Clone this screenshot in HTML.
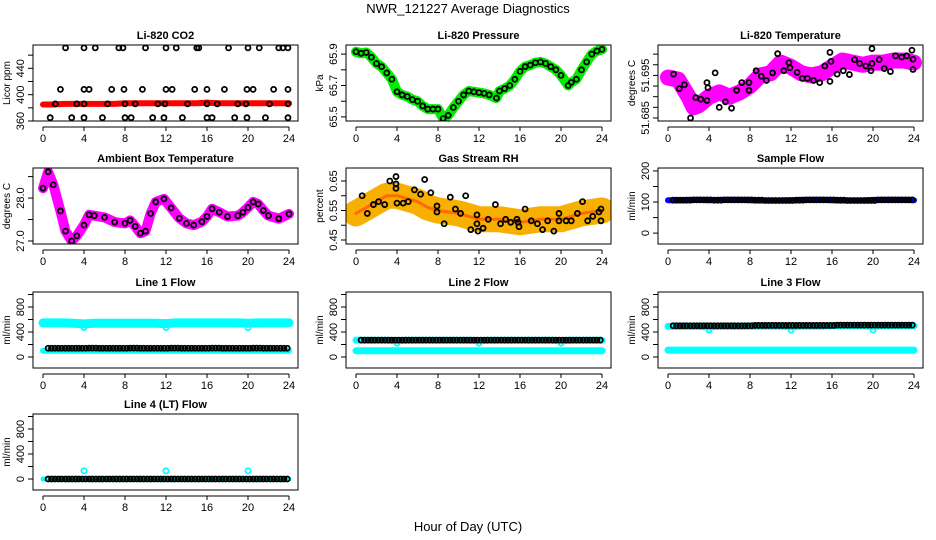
<!DOCTYPE html>
<html><head><meta charset="utf-8">
<style>
html,body{margin:0;padding:0;background:#fff;}
svg{display:block;font-family:"Liberation Sans",sans-serif;}
</style></head>
<body>
<svg id="c" width="936" height="540" viewBox="0 0 936 540">
<defs id="defs"></defs>
<text x="468" y="13" text-anchor="middle" font-size="13">NWR_121227  Average Diagnostics</text>
<text x="468" y="531" text-anchor="middle" font-size="13">Hour of Day (UTC)</text>
</svg>
<script>
const xTicks=[0,4,8,12,16,20,24];
// CO2
const co2BandH=[0,1,2,3,4,5,6,7,8,9,10,11,12,13,14,15,16,17,18,19,20,21,22,23,24];
const co2BandV=[385,385,386,386,386,386,386,386,387,387,387,387,387,387,387,387,388,387,387,387,387,387,387,387,387];
const co2HiH=[2.2,4,5.1,7.4,7.8,10,12,13,15,15.2,18.1,20,21.1,23,23.4,23.9];
const co2MidH=[1.7,4,4.5,6.7,7.9,9.7,12,12.6,14.8,16,17.7,19.9,20.5,22.5,23.9];
const co2LowH=[1.2,3.3,4,6.3,8,9,11.2,11.9,14.1,16,17,19,19.8,22.1,23.9];
const co2BotH=[0.7,2.8,4,5.8,8,8.6,10.7,11.8,13.6,16,16.5,18.7,19.9,21.7,23.9];
const co2Levels=[471,408,386,365];
// Pressure
const presH=[0,0.5,1,1.5,2,2.5,3,3.5,4,4.5,5,5.5,6,6.5,7,7.5,8,8.5,9,9.5,10,10.5,11,11.5,12,12.5,13,13.7,14,14.5,15,15.5,16,16.5,17,17.5,18,18.5,19,19.5,20,20.7,21,21.5,22,22.5,23,23.5,24];
const presV=[65.915,65.905,65.91,65.88,65.84,65.82,65.78,65.74,65.66,65.64,65.63,65.61,65.6,65.57,65.55,65.55,65.55,65.49,65.51,65.56,65.6,65.64,65.665,65.66,65.655,65.65,65.64,65.62,65.665,65.68,65.7,65.74,65.79,65.82,65.83,65.845,65.85,65.84,65.82,65.8,65.765,65.7,65.72,65.74,65.8,65.85,65.9,65.92,65.93];
// Li-820 temperature
const tMagH=[0,1,2,2.5,3,4,5,6,7,8,9,10,11,12,13,14,15,16,17,18,19,20,21,22,23,24];
const tMagV=[51.6945,51.694,51.690,51.6875,51.688,51.690,51.691,51.690,51.691,51.6925,51.695,51.6955,51.698,51.697,51.6955,51.695,51.6955,51.697,51.6985,51.698,51.6975,51.698,51.698,51.6985,51.6985,51.698];
const tBlkH=[0.55,1.1,1.6,2.2,2.7,3.2,3.8,3.8,3.9,4.6,5.0,5.6,6.2,6.7,7.2,7.9,7.9,8.6,9.1,9.6,10.2,10.7,11.3,11.8,11.9,12.6,13.1,13.6,14.2,14.8,15.3,15.8,15.9,15.8,16.5,17.1,17.7,18.2,18.7,19.3,19.8,19.9,19.9,20.6,21.1,21.7,22.2,22.8,23.3,23.8,23.9,23.9];
const tBlkV=[51.6953,51.6919,51.6928,51.685,51.6898,51.6894,51.6891,51.6933,51.6921,51.6956,51.6875,51.6888,51.6873,51.6915,51.6933,51.6933,51.6915,51.6961,51.6948,51.6938,51.6956,51.7001,51.6961,51.698,51.6968,51.6957,51.6943,51.6943,51.6938,51.6933,51.6972,51.7004,51.6983,51.6936,51.6953,51.6961,51.6952,51.6987,51.6978,51.6972,51.6961,51.7013,51.6978,51.6987,51.6966,51.6959,51.6996,51.6993,51.6996,51.7009,51.6988,51.6964];
// Ambient temperature
const ambH=[0,0.5,1,1.7,2.2,2.8,3.3,4,4.5,5,6,7,8,8.5,9,9.5,10,10.5,11,11.8,12.5,13.3,14,14.7,15.5,16,16.5,17.2,18,19,19.5,20,20.5,21,21.5,22,23,24];
const ambV=[28.23,28.61,28.31,27.70,27.23,27.0,27.12,27.37,27.61,27.59,27.55,27.44,27.41,27.48,27.34,27.18,27.23,27.64,27.91,27.98,27.77,27.53,27.41,27.37,27.45,27.57,27.75,27.67,27.57,27.59,27.67,27.78,27.91,27.86,27.71,27.59,27.52,27.63];
// Gas stream RH
const rhBandH=[0,1,2,3,4,5,6,7,8,10,12,14,16,18,20,22,24];
const rhBandV=[0.54,0.56,0.58,0.60,0.60,0.59,0.58,0.56,0.55,0.54,0.52,0.52,0.51,0.52,0.52,0.54,0.55];
const rhBlkH=[0.6,1.1,1.7,2.2,2.8,3.3,3.9,3.9,3.9,4,4.6,5.1,5.7,6.3,6.7,7.3,7.9,7.9,8.6,9.2,9.7,10.2,10.7,11.2,11.8,11.8,11.9,12.4,12.9,13.6,14.1,14.6,15.1,15.7,15.8,15.9,16.5,17.1,17.7,18.2,18.7,19.3,19.8,19.8,20.5,21,21.6,22.1,22.6,23.1,23.7,23.9,23.9];
const rhBlkV=[0.60,0.54,0.57,0.58,0.57,0.65,0.665,0.64,0.625,0.575,0.575,0.58,0.62,0.605,0.655,0.61,0.565,0.545,0.505,0.595,0.555,0.54,0.60,0.485,0.505,0.535,0.48,0.49,0.52,0.57,0.505,0.52,0.51,0.52,0.51,0.495,0.555,0.515,0.505,0.485,0.515,0.48,0.54,0.515,0.515,0.515,0.54,0.58,0.515,0.53,0.545,0.555,0.515];
// Flows (hourly)
const hours=[0,1,2,3,4,5,6,7,8,9,10,11,12,13,14,15,16,17,18,19,20,21,22,23,24];
const sampleV=[106,106,107,107,106,107,107,107,106,105,105,105,106,107,107,107,106,105,105,105,107,107,107,107,106];
const l1Hi=[545,545,545,540,530,540,540,540,540,540,540,540,535,545,545,545,545,545,545,545,540,545,545,545,545];
const l1Lo=[100,100,100,100,100,100,100,100,100,100,100,100,100,100,100,100,100,100,100,100,100,100,100,100,100];
const l1Blk=[140,140,140,140,142,140,140,140,142,140,140,140,142,140,140,140,142,140,140,140,142,140,140,140,142];
const l2Hi=[270,268,268,268,262,268,268,268,268,268,268,268,262,268,268,268,268,268,268,268,262,268,268,268,268];
const l2Lo=[100,100,100,100,100,100,100,100,100,100,100,100,100,100,100,100,100,100,100,100,100,100,100,100,100];
const l2Blk=[270,270,270,270,270,270,270,270,270,270,270,270,270,270,270,270,270,270,270,270,270,270,270,270,270];
const l3Hi=[490,490,490,490,480,490,490,490,495,495,495,495,485,495,495,495,500,500,500,500,490,500,500,500,500];
const l3Lo=[110,110,110,110,110,110,110,110,110,110,110,110,110,110,110,110,110,110,110,110,110,110,110,110,110];
const l3Blk=[500,500,500,500,500,500,500,500,505,505,505,505,505,505,505,505,510,510,510,510,510,510,510,510,515];
const l4V=[0,0,0,0,0,0,0,0,0,0,0,0,0,0,0,0,0,0,0,0,0,0,0,0,0];
const dipH=[4,12,20];
const dip1=[470,470,470], dip2=[220,220,220], dip3=[430,430,430], dip4=[130,130,130];

const NS="http://www.w3.org/2000/svg";
const svg=document.getElementById('c');
const defs=document.getElementById('defs');
function mk(tag,attrs,parent){const e=document.createElementNS(NS,tag);for(const k in attrs)e.setAttribute(k,attrs[k]);(parent||svg).appendChild(e);return e;}
const colL=[33,346,658], rowT=[45,168,292,414], W=265, H=76;
let clipN=0;
function panel(name,col,row,ymin,ymax,ticks,labels,title,ylab){
  const g=mk('g',{});
  
  
  const L=colL[col],T=rowT[row];
  const X=h=>L+10+h*246/24;
  const Y=v=>T+H-(v-ymin)/(ymax-ymin)*H;
  const cid='clip'+(clipN++);
  const cp=mk('clipPath',{id:cid},defs);
  mk('rect',{x:L,y:T,width:W,height:H},cp);
  const t=mk('text',{x:L+W/2,y:T-6,'text-anchor':'middle','font-size':11,'font-weight':'bold'},g);t.textContent=title;
  
  
  const plot=mk('g',{'clip-path':`url(#${cid})`},g);
  
  
  const box=mk('rect',{x:L,y:T,width:W,height:H,fill:'none',stroke:'#000','stroke-width':1},g);
  
  
  const xa=mk('g',{},g);
  
  
  const ay=T+H+6;
  mk('line',{x1:X(0),x2:X(24),y1:ay,y2:ay,stroke:'#000'},xa);
  xTicks.forEach(v=>{mk('line',{x1:X(v),x2:X(v),y1:ay,y2:ay+4,stroke:'#000'},xa);
    const tx=mk('text',{x:X(v),y:ay+15,'text-anchor':'middle','font-size':11},xa);tx.textContent=v;
    
    });
  const ya=mk('g',{},g);
  
  
  mk('line',{x1:L,x2:L,y1:Y(ticks[0]),y2:Y(ticks[ticks.length-1]),stroke:'#000'},ya);
  ticks.forEach(v=>mk('line',{x1:L-5,x2:L,y1:Y(v),y2:Y(v),stroke:'#000'},ya));
  labels.forEach(s=>{const v=parseFloat(s);const y=Y(v);
    const tx=mk('text',{x:L-9,y:y,'text-anchor':'middle','font-size':11,transform:`rotate(-90 ${L-9} ${y})`},ya);tx.textContent=s;
    
    });
  const yl=mk('text',{x:L-23,y:T+H/2,'text-anchor':'middle','font-size':10,transform:`rotate(-90 ${L-23} ${T+H/2})`},ya);yl.textContent=ylab;
  
  
  return {X,Y,plot};
}
function band(p,hs,vs,color,w,name){
  const pts=hs.map((h,i)=>p.X(h).toFixed(1)+','+p.Y(vs[i]).toFixed(1)).join(' ');
  const e=mk('polyline',{points:pts,fill:'none',stroke:color,'stroke-width':w,'stroke-linecap':'round','stroke-linejoin':'round'},p.plot);
  
  
}
function pts(p,hs,vs,color,name,r){
  hs.forEach((h,i)=>{const c=mk('circle',{cx:p.X(h),cy:p.Y(vs[i]),r:r||2.5,fill:'none',stroke:color,'stroke-width':1.8},p.plot);
    
    });
}
function tri(p,vals,color,name){
  hours.forEach((h,i)=>{if(h>=24)return;[0.5,0.83,1.17].forEach(o=>{const hh=h+o;if(hh>24)return;
    const c=mk('circle',{cx:p.X(hh),cy:p.Y(vals[i]),r:2.5,fill:'none',stroke:color,'stroke-width':1.8},p.plot);
    
    });});
}
let p=panel('co2',0,0,360,475.4,[360,380,400,420,440,460],['360','400','440'],'Li-820 CO2','Licor ppm');
band(p,co2BandH,co2BandV,'#ff0000',6,'co2-band');
[co2HiH,co2MidH,co2LowH,co2BotH].forEach((a,k)=>pts(p,a,a.map(()=>co2Levels[k]),'#000','co2-point'));
p=panel('pressure',1,0,65.474,65.958,[65.5,65.6,65.7,65.8,65.9],['65.5','65.7','65.9'],'Li-820 Pressure','kPa');
band(p,presH,presV,'#00ee00',10,'pressure-band');
pts(p,presH,presV,'#000','pressure-point');
p=panel('li-temp',2,0,51.68429,51.70214,[51.685,51.6875,51.69,51.6925,51.695,51.6975,51.7],['51.685','51.695'],'Li-820 Temperature','degrees C');
band(p,tMagH,tMagV,'#ff00ff',16,'li-temp-band');
pts(p,tBlkH,tBlkV,'#000','li-temp-point');
p=panel('ambient',0,1,26.93,28.70,[27,27.5,28,28.5],['27.0','28.0'],'Ambient Box Temperature','degrees C');
band(p,ambH,ambV,'#ff00ff',10,'ambient-band');
pts(p,ambH,ambV,'#000','ambient-point');
p=panel('rh',1,1,0.4364,0.694,[0.45,0.5,0.55,0.6,0.65],['0.45','0.55','0.65'],'Gas Stream RH','percent');
band(p,rhBandH,rhBandV,'#f7b000',26,'rh-band');
band(p,rhBandH,rhBandV,'#ff6a00',3,'rh-band-core');
pts(p,rhBlkH,rhBlkV,'#000','rh-point');
p=panel('sample-flow',2,1,-35,209.5,[0,50,100,150,200],['0','100','200'],'Sample Flow','ml/min');
band(p,hours,sampleV,'#0000ff',6,'sample-flow-band');
tri(p,sampleV,'#000','sample-flow-point');
const fT=[0,200,400,600,800,1000], fL=['0','400','800'];
p=panel('line1-flow',0,2,-176,1040,fT,fL,'Line 1 Flow','ml/min');
band(p,hours,l1Hi,'#00ffff',9,'line1-high-band');
band(p,hours,l1Lo,'#00ffff',6,'line1-low-band');
pts(p,dipH,dip1,'#00ffff','line1-dip');
tri(p,l1Blk,'#000','line1-point');
p=panel('line2-flow',1,2,-176,1040,fT,fL,'Line 2 Flow','ml/min');
band(p,hours,l2Hi,'#00ffff',7,'line2-high-band');
band(p,hours,l2Lo,'#00ffff',7,'line2-low-band');
pts(p,dipH,dip2,'#00ffff','line2-dip');
tri(p,l2Blk,'#000','line2-point');
p=panel('line3-flow',2,2,-176,1040,fT,fL,'Line 3 Flow','ml/min');
band(p,hours,l3Hi,'#00ffff',7,'line3-high-band');
band(p,hours,l3Lo,'#00ffff',7,'line3-low-band');
pts(p,dipH,dip3,'#00ffff','line3-dip');
tri(p,l3Blk,'#000','line3-point');
p=panel('line4-flow',0,3,-176,1040,fT,fL,'Line 4 (LT) Flow','ml/min');
band(p,hours,l4V,'#00ffff',5,'line4-band');
pts(p,dipH,dip4,'#00ffff','line4-dip',2.6);
tri(p,l4V,'#000','line4-point');
</script>
</body></html>
